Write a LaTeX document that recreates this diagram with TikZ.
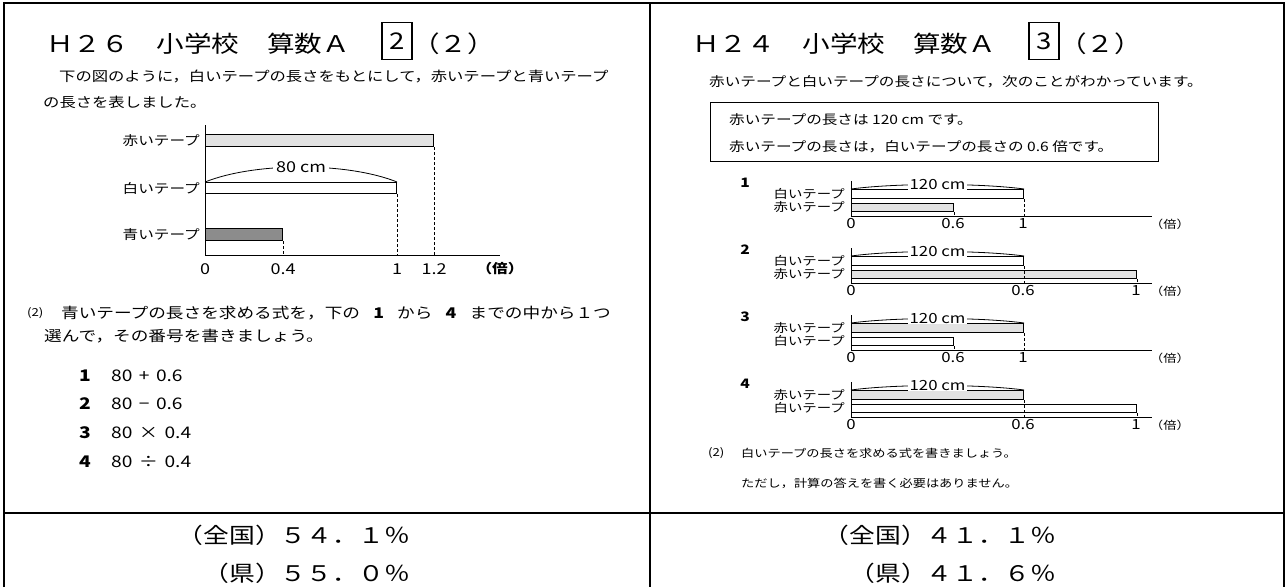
\documentclass[tikz,border=0pt]{standalone}
\usepackage{fontspec}
\setmainfont{Noto Sans CJK JP}[FakeStretch=1.2]
\usepackage{tikz}
\usetikzlibrary{positioning, calc}
\definecolor{tapeLight}{RGB}{226, 226, 226}
\definecolor{tapeDark}{RGB}{140, 140, 140}
\newcommand{\jpsize}[1]{\fontsize{#1}{#1}\selectfont}

\begin{document}
\begin{tikzpicture}[x=1pt, y=-1pt,
    every node/.style={inner sep=0pt},
    marco/.style={line width=2pt},
    titulo/.style={font=\jpsize{23}, anchor=base west},
    caja/.style={draw, line width=1.6pt, minimum width=30pt, minimum height=37pt, font=\jpsize{23}},
    cuerpo/.style={font=\jpsize{13.6}, anchor=west},
    cinta/.style={draw, line width=1.1pt, anchor=north west},
    etiq/.style={font=\jpsize{13}},
    eje/.style={line width=1pt},
    guia/.style={line width=0.8pt, dash pattern=on 3pt off 2pt},
    arco/.style={line width=0.8pt},
    medida/.style={fill=white, inner xsep=3pt, font=\jpsize{15}},
    eval/.style={font=\jpsize{15}},
    evalb/.style={font=\bfseries\jpsize{13}},
    peq/.style={font=\jpsize{11}, anchor=west},
    preg/.style={font=\jpsize{14.7}, anchor=west},
    opnum/.style={font=\bfseries\jpsize{16}},
    opexp/.style={font=\jpsize{16}},
    pct/.style={font=\jpsize{21.5}, anchor=east},
    rcuerpo/.style={font=\jpsize{13}, anchor=west},
    rlab/.style={font=\jpsize{12}},
    rnum/.style={font=\bfseries\jpsize{13}},
    rmed/.style={fill=white, inner xsep=2pt, font=\jpsize{14}},
    reval/.style={font=\jpsize{14}},
    rbai/.style={font=\jpsize{11}, anchor=west},
    rpreg/.style={font=\jpsize{11}, anchor=west}]

    \useasboundingbox (0,0) rectangle (1285,587);

    % Marco de la tabla
    \draw[marco] (4,587) -- (4,3) -- (1284,3) -- (1284,587);
    \draw[marco] (650,3) -- (650,587);
    \draw[marco] (4,512.5) -- (1284,512.5);

    % Titulos
    \node[titulo] (tit1) at (46,52) {Ｈ２６　小学校　算数Ａ　};
    \node[caja] (caja1) at (397,41) {2};
    \node[titulo] (par1) at (412,52) {（２）};
    \node[titulo] (tit2) at (692,52) {Ｈ２４　小学校　算数Ａ　};
    \node[caja] (caja2) at (1044,41) {3};
    \node[titulo] (par2) at (1059,52) {（２）};

    % Enunciado izquierdo
    \node[cuerpo] (txt1) at (59,76) {下の図のように，白いテープの長さをもとにして，赤いテープと青いテープ};
    \node[cuerpo] (txt2) at (43,102) {の長さを表しました。};

    % Cintas izquierdas
    \coordinate (oL) at (205,255);
    \node[cinta, fill=tapeLight, minimum width=228pt, minimum height=12pt] (rojo) at (205,134) {};
    \node[cinta, fill=white, minimum width=191pt, minimum height=11pt] (blanco) at (205,182) {};
    \node[cinta, fill=tapeDark, minimum width=77pt, minimum height=12pt] (azul) at (205,228) {};
    \node[etiq, left=5pt of rojo] (erojo) {赤いテープ};
    \node[etiq, left=5pt of blanco] (eblanco) {白いテープ};
    \node[etiq, left=5pt of azul] (eazul) {青いテープ};
    \draw[eje] (205,125) -- (oL) -- (500,255);
    \draw[guia] (rojo.south east) -- (rojo.south east |- oL);
    \draw[guia] (blanco.south east) -- (blanco.south east |- oL);
    \draw[guia] (azul.south east) -- (azul.south east |- oL);
    \draw[arco] (blanco.north west) .. controls +(50,-20) and +(-50,-20) .. node[medida] {80 cm} (blanco.north east);
    \node[eval] (n0) at (205,269) {0};
    \node[eval] (n04) at (azul.south east |- n0) {0.4};
    \node[eval] (n1) at (blanco.south east |- n0) {1};
    \node[eval] (n12) at (rojo.south east |- n0) {1.2};
    \node[evalb] (nbai) at (500,269) {（倍）};

    % Pregunta izquierda
    \node[peq] (q2) at (27,313) {(2)};
    \node[preg] (preg1) at (61,313) {青いテープの長さを求める式を，下の\hspace{0.9em}\textbf{1}\hspace{0.9em}から\hspace{0.9em}\textbf{4}\hspace{0.9em}までの中から１つ};
    \node[preg] (preg2) at (44,336) {選んで，その番号を書きましょう。};
    \foreach \i/\expr/\yy in {1/{80\hspace{0.4em}+\hspace{0.4em}0.6}/376, 2/{80\hspace{0.4em}−\hspace{0.4em}0.6}/404, 3/{80\hspace{0.4em}×\hspace{0.4em}0.4}/433, 4/{80\hspace{0.4em}÷\hspace{0.4em}0.4}/462} {
        \node[opnum] (op\i) at (85,\yy) {\i};
        \node[opexp, right=20pt of op\i, anchor=west] {\expr};
    }

    % Enunciado derecho
    \node[rcuerpo] (txt3) at (709,82) {赤いテープと白いテープの長さについて，次のことがわかっています。};
    \node[draw, line width=1.3pt, minimum width=448pt, minimum height=59pt, anchor=north west] (cond) at (710,102) {};
    \node[rcuerpo] (cond1) at (729,120) {赤いテープの長さは 120 cm です。};
    \node[rcuerpo] (cond2) at (729,147) {赤いテープの長さは，白いテープの長さの 0.6 倍です。};

    % Cuatro opciones con cintas
    \foreach \A/\k/\ttop/\ftop/\tbot/\fbot/\wb/\xs/\xl in {
        216/1/白いテープ/white/赤いテープ/tapeLight/102/953/1023,
        283/2/白いテープ/white/赤いテープ/tapeLight/285/1023/1136,
        350/3/赤いテープ/tapeLight/白いテープ/white/102/953/1023,
        417/4/赤いテープ/tapeLight/白いテープ/white/285/1023/1136} {
        \coordinate (o\k) at (851,\A);
        \node[rnum] (num\k) at (745,\A-33) {\k};
        \node[cinta, fill=\ftop, minimum width=172pt, minimum height=9pt] (sup\k) at (851,\A-27) {};
        \node[cinta, fill=\fbot, minimum width=\wb pt, minimum height=8.5pt] (inf\k) at (851,\A-13.5) {};
        \node[rlab, left=6pt of sup\k] (lsup\k) {\ttop};
        \node[rlab, left=6pt of inf\k] (linf\k) {\tbot};
        \draw[eje] (851,\A-35) -- (o\k) -- (1152,\A);
        \draw[guia] (sup\k.south east) -- (sup\k.south east |- o\k);
        \draw[guia] (inf\k.south east) -- (inf\k.south east |- o\k);
        \draw[arco] (sup\k.north west) .. controls +(45,-6) and +(-45,-6) .. node[rmed] {120 cm} (sup\k.north east);
        \node[reval] (z\k) at (851,\A+8) {0};
        \node[reval] at (\xs,\A+8) {0.6};
        \node[reval] at (\xl,\A+8) {1};
        \node[rbai] at (1150,\A+8) {（倍）};
    }

    % Pregunta derecha
    \node[peq] (q3) at (708,453) {(2)};
    \node[rpreg] (preg3) at (741,453) {白いテープの長さを求める式を書きましょう。};
    \node[rpreg] (preg4) at (741,483) {ただし，計算の答えを書く必要はありません。};

    % Porcentajes
    \node[pct] (zen1) at (410,535) {（全国）５４．１％};
    \node[pct] (ken1) at (410,573) {（県）５５．０％};
    \node[pct] (zen2) at (1056,535) {（全国）４１．１％};
    \node[pct] (ken2) at (1056,573) {（県）４１．６％};
\end{tikzpicture}
\end{document}
